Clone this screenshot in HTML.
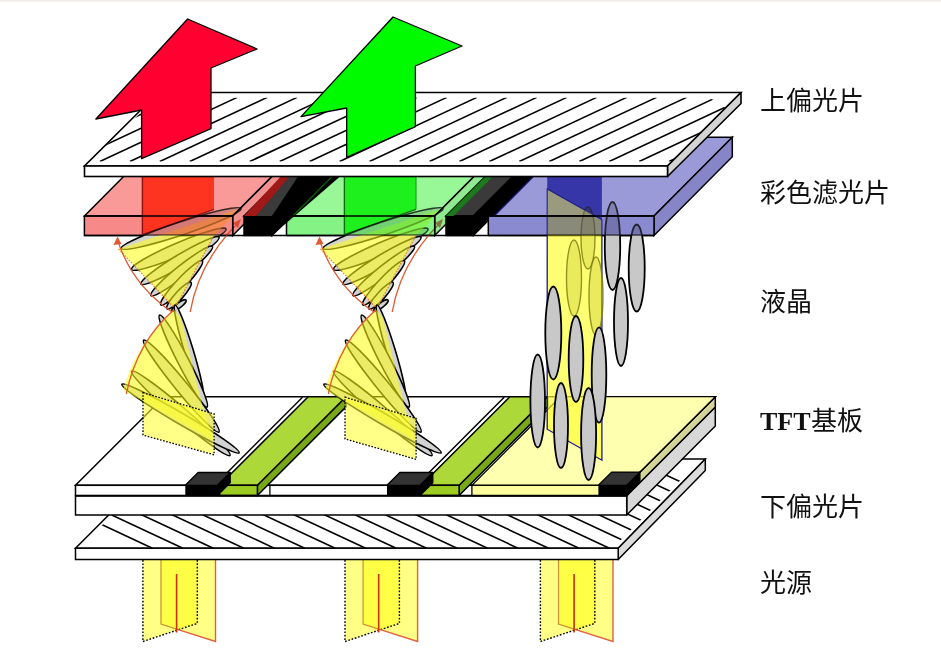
<!DOCTYPE html>
<html lang="zh-CN"><head><meta charset="utf-8">
<style>
html,body{margin:0;padding:0;background:#fff;width:941px;height:661px;overflow:hidden}
svg{display:block}
.lbl{font-family:"Liberation Sans",sans-serif;font-size:26px;fill:#111}
</style></head><body>
<svg width="941" height="661" viewBox="0 0 941 661">
<rect width="941" height="661" fill="#fff"/><rect width="941" height="1.6" fill="#efebe8"/>
<g>
  <polygon points="142.9,560.0 142.9,641.5 197.3,623.4 197.3,560.0" fill="#ffff00" fill-opacity="0.48"/>
  <polygon points="161.0,560.0 161.0,624.1 215.5,641.5 215.5,560.0" fill="#ffff00" fill-opacity="0.48"/>
  <polyline points="142.9,560.0 142.9,641.5 197.3,623.4 197.3,560.0" fill="none" stroke="#000" stroke-width="1.4" stroke-dasharray="1.7,1.7"/>
  <polyline points="161.0,560.0 161.0,624.1 176.6,629.1" fill="none" stroke="#c89030" stroke-width="1.2"/>
  <polyline points="176.6,629.1 215.5,641.5 215.5,560.0" fill="none" stroke="#e06040" stroke-width="1.4"/>
  <line x1="176.6" y1="574" x2="176.6" y2="632.5" stroke="#c83010" stroke-width="1.6"/>
</g>
<g>
  <polygon points="345.0,560.0 345.0,641.5 399.4,623.4 399.4,560.0" fill="#ffff00" fill-opacity="0.48"/>
  <polygon points="363.1,560.0 363.1,624.1 417.6,641.5 417.6,560.0" fill="#ffff00" fill-opacity="0.48"/>
  <polyline points="345.0,560.0 345.0,641.5 399.4,623.4 399.4,560.0" fill="none" stroke="#000" stroke-width="1.4" stroke-dasharray="1.7,1.7"/>
  <polyline points="363.1,560.0 363.1,624.1 378.7,629.1" fill="none" stroke="#c89030" stroke-width="1.2"/>
  <polyline points="378.7,629.1 417.6,641.5 417.6,560.0" fill="none" stroke="#e06040" stroke-width="1.4"/>
  <line x1="378.7" y1="574" x2="378.7" y2="632.5" stroke="#c83010" stroke-width="1.6"/>
</g>
<g>
  <polygon points="540.4,560.0 540.4,641.5 594.8,623.4 594.8,560.0" fill="#ffff00" fill-opacity="0.48"/>
  <polygon points="558.5,560.0 558.5,624.1 613.0,641.5 613.0,560.0" fill="#ffff00" fill-opacity="0.48"/>
  <polyline points="540.4,560.0 540.4,641.5 594.8,623.4 594.8,560.0" fill="none" stroke="#000" stroke-width="1.4" stroke-dasharray="1.7,1.7"/>
  <polyline points="558.5,560.0 558.5,624.1 574.1,629.1" fill="none" stroke="#c89030" stroke-width="1.2"/>
  <polyline points="574.1,629.1 613.0,641.5 613.0,560.0" fill="none" stroke="#e06040" stroke-width="1.4"/>
  <line x1="574.1" y1="574" x2="574.1" y2="632.5" stroke="#c83010" stroke-width="1.6"/>
</g>
<polygon points="75.5,548.2 618.2,548.2 705.3,459.1 164.6,459.1" fill="#fff" stroke="#000" stroke-width="1.5"/>
<clipPath id="lpclip"><polygon points="79,548.2 612.6,548.2 699.7,461 167,461"/></clipPath>
<g clip-path="url(#lpclip)" stroke="#000" stroke-width="1.6"><line x1="-38.8" y1="459" x2="152.4" y2="548.2"/><line x1="-8.3" y1="459" x2="182.9" y2="548.2"/><line x1="22.1" y1="459" x2="213.3" y2="548.2"/><line x1="52.6" y1="459" x2="243.8" y2="548.2"/><line x1="83.1" y1="459" x2="274.3" y2="548.2"/><line x1="113.5" y1="459" x2="304.8" y2="548.2"/><line x1="144.0" y1="459" x2="335.2" y2="548.2"/><line x1="174.5" y1="459" x2="365.7" y2="548.2"/><line x1="204.9" y1="459" x2="396.2" y2="548.2"/><line x1="235.4" y1="459" x2="426.6" y2="548.2"/><line x1="265.9" y1="459" x2="457.1" y2="548.2"/><line x1="296.4" y1="459" x2="487.6" y2="548.2"/><line x1="326.8" y1="459" x2="518.0" y2="548.2"/><line x1="357.3" y1="459" x2="548.5" y2="548.2"/><line x1="387.8" y1="459" x2="579.0" y2="548.2"/><line x1="418.2" y1="459" x2="609.4" y2="548.2"/><line x1="448.7" y1="459" x2="639.9" y2="548.2"/><line x1="479.2" y1="459" x2="670.4" y2="548.2"/><line x1="509.6" y1="459" x2="700.9" y2="548.2"/><line x1="540.1" y1="459" x2="731.3" y2="548.2"/><line x1="570.6" y1="459" x2="761.8" y2="548.2"/><line x1="601.1" y1="459" x2="792.3" y2="548.2"/><line x1="631.5" y1="459" x2="822.7" y2="548.2"/></g>
<polygon points="618.2,548.2 705.3,459.1 705.3,470.4 618.2,559.5" fill="#dcdcdc" stroke="#000" stroke-width="1.5" stroke-linejoin="round"/>
<rect x="75.5" y="548.2" width="542.7" height="11.3" fill="#fff" stroke="#000" stroke-width="1.5"/>
<polygon points="626.7,495.7 715.3,407.0 715.3,426.0 626.7,515.0" fill="#d8d8d8" stroke="#000" stroke-width="1.5" stroke-linejoin="round"/>
<rect x="75.5" y="495.7" width="551.2" height="19.3" fill="#fff" stroke="#000" stroke-width="1.5"/>
<polygon points="626.7,485.3 715.3,396.7 715.3,407.0 626.7,495.7" fill="#d4d496" stroke="#000" stroke-width="1.5" stroke-linejoin="round"/>
<polygon points="75.5,485.3 626.7,485.3 715.3,396.7 164.1,396.7" fill="#fff" stroke="#000" stroke-width="1.5"/>
<rect x="75.5" y="485.3" width="551.2" height="10.4" fill="#fff" stroke="#000" stroke-width="1.5"/>
<polygon points="471.9,485.3 626.7,485.3 715.3,396.7 560.5,396.7" fill="#ffffb0" stroke="#000" stroke-width="1.3"/>
<rect x="471.9" y="485.3" width="154.8" height="10.4" fill="#ffff9e" stroke="#000" stroke-width="1.3"/>
<line x1="226.6" y1="473.2" x2="302.5" y2="397.3" stroke="#000" stroke-width="1.5"/>
<polygon points="257.4,485.3 346.0,396.7 346.0,406.9 257.4,495.5" fill="#78a818" stroke="#000" stroke-width="1.5" stroke-linejoin="round"/>
<polygon points="219.6,485.3 257.4,485.3 346.0,396.7 308.2,396.7" fill="#acd83a" stroke="#000" stroke-width="1.5" stroke-linejoin="round"/>
<rect x="219.6" y="485.3" width="37.8" height="10.2" fill="#9ccc22" stroke="#000" stroke-width="1.5"/>
<line x1="428.3" y1="473.2" x2="504.2" y2="397.3" stroke="#000" stroke-width="1.5"/>
<polygon points="459.1,485.3 547.7,396.7 547.7,406.9 459.1,495.5" fill="#78a818" stroke="#000" stroke-width="1.5" stroke-linejoin="round"/>
<polygon points="421.3,485.3 459.1,485.3 547.7,396.7 509.9,396.7" fill="#acd83a" stroke="#000" stroke-width="1.5" stroke-linejoin="round"/>
<rect x="421.3" y="485.3" width="37.8" height="10.2" fill="#9ccc22" stroke="#000" stroke-width="1.5"/>
<line x1="269.9" y1="485.3" x2="269.9" y2="495.6" stroke="#000" stroke-width="1.3"/>
<polygon points="217.4,485.3 230.2,472.5 230.2,482.8 217.4,495.6" fill="#000" stroke="#000" stroke-width="1.3" stroke-linejoin="round"/>
<polygon points="185.3,485.3 217.4,485.3 230.2,472.5 198.1,472.5" fill="#333" stroke="#000" stroke-width="1.3" stroke-linejoin="round"/>
<rect x="185.3" y="485.3" width="32.1" height="10.3" fill="#000"/>
<polygon points="420.0,485.3 432.8,472.5 432.8,482.8 420.0,495.6" fill="#000" stroke="#000" stroke-width="1.3" stroke-linejoin="round"/>
<polygon points="387.0,485.3 420.0,485.3 432.8,472.5 399.8,472.5" fill="#333" stroke="#000" stroke-width="1.3" stroke-linejoin="round"/>
<rect x="387.0" y="485.3" width="33.0" height="10.3" fill="#000"/>
<polygon points="626.7,485.3 639.9,472.1 639.9,482.4 626.7,495.6" fill="#000" stroke="#000" stroke-width="1.3" stroke-linejoin="round"/>
<polygon points="598.4,485.3 626.7,485.3 639.9,472.1 611.6,472.1" fill="#333" stroke="#000" stroke-width="1.3" stroke-linejoin="round"/>
<rect x="598.4" y="485.3" width="28.3" height="10.3" fill="#000"/>
<line x1="75.5" y1="495.6" x2="626.7" y2="495.6" stroke="#000" stroke-width="1.6"/>
<polygon points="84.4,216.0 232.7,216.0 311.0,137.3 162.7,137.3" fill="#f99a98" stroke="#000" stroke-width="1.5"/>
<polygon points="232.7,216.0 311.0,137.3 311.0,156.8 232.7,235.5" fill="#f09290" stroke="#000" stroke-width="1.5"/>
<rect x="84.4" y="216.0" width="148.3" height="19.5" fill="#f78a88" stroke="#000" stroke-width="1.5"/>
<polygon points="244.0,216.0 272.0,216.0 350.3,137.3 322.3,137.3" fill="#3a3a3a" stroke="#000" stroke-width="1.5"/>
<polygon points="272.0,216.0 350.3,137.3 350.3,156.8 272.0,235.5" fill="#000" stroke="#000" stroke-width="1.5"/>
<rect x="244" y="216.0" width="28.0" height="19.5" fill="#000" stroke="#000" stroke-width="1.5"/>
<polygon points="286.5,216.0 434.7,216.0 513.0,137.3 364.8,137.3" fill="#98f898" stroke="#000" stroke-width="1.5"/>
<polygon points="434.7,216.0 513.0,137.3 513.0,156.8 434.7,235.5" fill="#90e890" stroke="#000" stroke-width="1.5"/>
<rect x="286.5" y="216.0" width="148.2" height="19.5" fill="#84f284" stroke="#000" stroke-width="1.5"/>
<polygon points="446.0,216.0 473.4,216.0 551.7,137.3 524.3,137.3" fill="#3a3a3a" stroke="#000" stroke-width="1.5"/>
<polygon points="473.4,216.0 551.7,137.3 551.7,156.8 473.4,235.5" fill="#000" stroke="#000" stroke-width="1.5"/>
<rect x="446" y="216.0" width="27.4" height="19.5" fill="#000" stroke="#000" stroke-width="1.5"/>
<polygon points="488.3,216.0 654.0,216.0 732.3,137.3 566.6,137.3" fill="#9a9ad8" stroke="#000" stroke-width="1.5"/>
<polygon points="654.0,216.0 732.3,137.3 732.3,156.8 654.0,235.5" fill="#8585c8" stroke="#000" stroke-width="1.5"/>
<rect x="488.3" y="216.0" width="165.7" height="19.5" fill="#8a8ad0" stroke="#000" stroke-width="1.5"/>
<polygon points="244,216 256.3,216 289.5,176.5 280.8,176.5" fill="#a01818"/>
<polygon points="256.3,216 272,216 298,176.5 289.5,176.5" fill="#3a3a3a"/>
<polygon points="272,216 298,176.5 340,176.5 272,235.5" fill="#000"/>
<polygon points="446.0,216.0 453.5,216.0 531.8,137.3 524.3,137.3" fill="#1c7a1c"/>
<polygon points="286.5,216.0 292.5,216.0 370.8,137.3 364.8,137.3" fill="#000"/>
<line x1="292.8" y1="216" x2="371.1" y2="137.3" stroke="#0a5a0a" stroke-width="1.4"/>
<polygon points="488.3,216.0 493.8,216.0 572.1,137.3 566.6,137.3" fill="#000"/>
<line x1="494" y1="216" x2="572.3" y2="137.3" stroke="#101060" stroke-width="1.4"/>
<polygon points="142.4,176.5 214,176.5 214,209.3 142.4,234.6" fill="#ff3420"/>
<polygon points="344.4,176.5 416,176.5 416,209.3 344.4,234.6" fill="#1ef01e"/>
<polygon points="547.2,176.5 601.9,176.5 601.9,219.8 547.2,189" fill="#3636a8"/>
<g stroke-width="1.4" fill="none"><line x1="142.4" y1="176.5" x2="142.4" y2="235.5" stroke="#901010"/><line x1="142.4" y1="234.6" x2="214" y2="209.3" stroke="#901010"/><line x1="344.4" y1="176.5" x2="344.4" y2="235.5" stroke="#107010"/><line x1="416" y1="176.5" x2="416" y2="209.3" stroke="#20a020" stroke-width="1.2"/><line x1="344.4" y1="234.6" x2="416" y2="209.3" stroke="#107010"/></g>
<g stroke="#000" stroke-width="1.5"><line x1="84.4" y1="216" x2="232.7" y2="216"/><line x1="286.5" y1="216" x2="434.7" y2="216"/><line x1="488.3" y1="216" x2="654" y2="216"/></g>
<line x1="84.4" y1="235.5" x2="654" y2="235.5" stroke="#000" stroke-width="1.6"/>
<defs><g id="helix"><ellipse cx="181.1" cy="228.5" rx="63.1" ry="6.5" transform="rotate(-18.4 181.1 228.5)" fill="#d2d2d2" stroke="#000" stroke-width="1.6" />
<ellipse cx="178.8" cy="249.2" rx="51.4" ry="6.5" transform="rotate(-23.2 178.8 249.2)" fill="#d2d2d2" stroke="#000" stroke-width="1.6" />
<ellipse cx="180.0" cy="260.6" rx="45.5" ry="6.0" transform="rotate(-31.0 180.0 260.6)" fill="#d2d2d2" stroke="#000" stroke-width="1.6" />
<ellipse cx="181.7" cy="271.0" rx="39.3" ry="5.5" transform="rotate(-38.6 181.7 271.0)" fill="#d2d2d2" stroke="#000" stroke-width="1.6" />
<ellipse cx="181.6" cy="282.9" rx="30.3" ry="5.0" transform="rotate(-46.7 181.6 282.9)" fill="#d2d2d2" stroke="#000" stroke-width="1.6" />
<ellipse cx="179.0" cy="295.7" rx="17.9" ry="4.0" transform="rotate(-47.9 179.0 295.7)" fill="#d2d2d2" stroke="#000" stroke-width="1.6" />
<ellipse cx="179.0" cy="305.5" rx="8.9" ry="2.5" transform="rotate(-38.2 179.0 305.5)" fill="#d2d2d2" stroke="#000" stroke-width="1.6" />
<polygon points="118.5,249 241,208 213,237 175,308.5" fill="#ffff10" fill-opacity="0.56"/>
<polyline points="118.5,249 175,308.5 213,237" fill="none" stroke="#e08020" stroke-width="1.2" stroke-dasharray="1.5,1.5"/>
<path d="M117.9,241.1 Q132.4,285.2 172,312" fill="none" stroke="#e05a30" stroke-width="1.3"/>
<polygon points="117.5,236.5 113.5,245 121.5,244" fill="#e05a30"/>
<path d="M238,223 Q199,262 190.2,312" fill="none" stroke="#e05a30" stroke-width="1.3"/>
<polygon points="241,219 233,223 238,228" fill="#e05a30"/>
<ellipse cx="189.0" cy="351.5" rx="48.6" ry="4.5" transform="rotate(73.2 189.0 351.5)" fill="#d2d2d2" stroke="#000" stroke-width="1.6" />
<ellipse cx="183.3" cy="361.1" rx="51.7" ry="5.5" transform="rotate(62.7 183.3 361.1)" fill="#d2d2d2" stroke="#000" stroke-width="1.6" />
<ellipse cx="181.3" cy="386.1" rx="59.4" ry="6.0" transform="rotate(50.7 181.3 386.1)" fill="#d2d2d2" stroke="#000" stroke-width="1.6" />
<ellipse cx="180.8" cy="413.3" rx="64.8" ry="6.0" transform="rotate(40.6 180.8 413.3)" fill="#d2d2d2" stroke="#000" stroke-width="1.6" />
<ellipse cx="180.5" cy="418.5" rx="67.9" ry="5.5" transform="rotate(30.3 180.5 418.5)" fill="#d2d2d2" stroke="#000" stroke-width="1.6" />
<path d="M174,309.8 Q137,342 123,390 L214,441 L203,408 L196,380 L181,318 Z" fill="#ffff10" fill-opacity="0.56"/>
<path d="M174,309.8 Q137,342 126.3,393.8" fill="none" stroke="#e05a30" stroke-width="1.3"/></g><clipPath id="belowF"><rect x="0" y="235.5" width="941" height="430"/></clipPath><clipPath id="inF"><rect x="0" y="150" width="941" height="85.5"/></clipPath></defs>
<use href="#helix" clip-path="url(#belowF)"/>
<use href="#helix" clip-path="url(#inF)" style="mix-blend-mode:multiply;opacity:0.75"/>
<g transform="translate(202,0)"><use href="#helix" clip-path="url(#belowF)"/></g>
<polygon points="143,392.7 214.1,413.9 214.1,454.8 143,435.1" fill="#ffff30" fill-opacity="0.58" stroke="#000" stroke-width="1.3" stroke-dasharray="1.6,1.6"/>
<polygon points="345,397.2 416.1,418.4 416.1,459.3 345,438.9" fill="#ffff30" fill-opacity="0.58" stroke="#000" stroke-width="1.3" stroke-dasharray="1.6,1.6"/>
<g transform="translate(202,0)"><use href="#helix" clip-path="url(#inF)" style="mix-blend-mode:multiply;opacity:0.75"/></g>
<defs><g id="rcol"><polygon points="547.2,189 601.9,219.8 601.9,460.2 547.2,429.2" fill="#ffff30" fill-opacity="0.68" stroke="#1a1a90" stroke-width="1.3"/>
<ellipse cx="588.0" cy="238.0" rx="31.0" ry="7.0" transform="rotate(90.0 588.0 238.0)" fill="#d0d040" stroke="#7a7a10" stroke-width="1.4" fill-opacity="0.45" stroke-opacity="0.8"/>
<ellipse cx="574.0" cy="278.0" rx="38.0" ry="7.5" transform="rotate(90.0 574.0 278.0)" fill="#d0d040" stroke="#7a7a10" stroke-width="1.4" fill-opacity="0.45" stroke-opacity="0.8"/>
<ellipse cx="596.0" cy="296.0" rx="39.0" ry="7.0" transform="rotate(90.0 596.0 296.0)" fill="#d0d040" stroke="#7a7a10" stroke-width="1.4" fill-opacity="0.45" stroke-opacity="0.8"/>
<ellipse cx="612.5" cy="246" rx="7.7" ry="44" fill="#c8c8c8" stroke="#000" stroke-width="1.8"/>
<ellipse cx="636.7" cy="268" rx="8" ry="43.5" fill="#c8c8c8" stroke="#000" stroke-width="1.8"/>
<ellipse cx="621" cy="322" rx="7" ry="44" fill="#c8c8c8" stroke="#000" stroke-width="1.8"/>
<ellipse cx="553.3" cy="333" rx="8" ry="46.5" fill="#c8c8c8" stroke="#000" stroke-width="1.8"/>
<ellipse cx="576" cy="359" rx="7.3" ry="43" fill="#c8c8c8" stroke="#000" stroke-width="1.8"/>
<ellipse cx="599" cy="375" rx="7.3" ry="47.6" fill="#c8c8c8" stroke="#000" stroke-width="1.8"/>
<ellipse cx="537.7" cy="401" rx="7.3" ry="46.5" fill="#c8c8c8" stroke="#000" stroke-width="1.8"/>
<ellipse cx="561" cy="425.5" rx="7" ry="42.5" fill="#c8c8c8" stroke="#000" stroke-width="1.8"/>
<ellipse cx="588.6" cy="434" rx="7.5" ry="46" fill="#c8c8c8" stroke="#000" stroke-width="1.8"/></g></defs>
<use href="#rcol" clip-path="url(#belowF)"/>
<use href="#rcol" clip-path="url(#inF)" style="mix-blend-mode:multiply;opacity:0.75"/>
<polygon points="84.5,166.0 667.5,166.0 741.0,92.5 158.5,92.5" fill="#fff" stroke="#000" stroke-width="1.6"/>
<clipPath id="tpclip"><polygon points="89.2,161.5 672,161.5 725.5,108 715,100.5 708,97.8 156.5,97.8"/></clipPath>
<g clip-path="url(#tpclip)" stroke="#000" stroke-width="1.6"><line x1="-79.9" y1="161.5" x2="57.4" y2="97.4"/><line x1="-49.9" y1="161.5" x2="87.4" y2="97.4"/><line x1="-19.9" y1="161.5" x2="117.4" y2="97.4"/><line x1="10.0" y1="161.5" x2="147.3" y2="97.4"/><line x1="40.0" y1="161.5" x2="177.3" y2="97.4"/><line x1="69.9" y1="161.5" x2="207.2" y2="97.4"/><line x1="99.9" y1="161.5" x2="237.2" y2="97.4"/><line x1="129.9" y1="161.5" x2="267.2" y2="97.4"/><line x1="159.8" y1="161.5" x2="297.1" y2="97.4"/><line x1="189.8" y1="161.5" x2="327.1" y2="97.4"/><line x1="219.7" y1="161.5" x2="357.0" y2="97.4"/><line x1="249.7" y1="161.5" x2="387.0" y2="97.4"/><line x1="279.7" y1="161.5" x2="417.0" y2="97.4"/><line x1="309.6" y1="161.5" x2="446.9" y2="97.4"/><line x1="339.6" y1="161.5" x2="476.9" y2="97.4"/><line x1="369.5" y1="161.5" x2="506.8" y2="97.4"/><line x1="399.5" y1="161.5" x2="536.8" y2="97.4"/><line x1="429.5" y1="161.5" x2="566.8" y2="97.4"/><line x1="459.4" y1="161.5" x2="596.7" y2="97.4"/><line x1="489.4" y1="161.5" x2="626.7" y2="97.4"/><line x1="519.3" y1="161.5" x2="656.6" y2="97.4"/><line x1="549.3" y1="161.5" x2="686.6" y2="97.4"/><line x1="579.3" y1="161.5" x2="716.6" y2="97.4"/><line x1="609.2" y1="161.5" x2="746.5" y2="97.4"/><line x1="639.2" y1="161.5" x2="776.5" y2="97.4"/><line x1="669.1" y1="161.5" x2="806.4" y2="97.4"/><line x1="699.1" y1="161.5" x2="836.4" y2="97.4"/><line x1="729.1" y1="161.5" x2="866.4" y2="97.4"/><line x1="759.0" y1="161.5" x2="896.3" y2="97.4"/><line x1="789.0" y1="161.5" x2="926.3" y2="97.4"/></g>
<polygon points="667.5,166.0 741.0,92.5 741.0,103.5 667.5,176.5" fill="#d4d4d4" stroke="#000" stroke-width="1.6" stroke-linejoin="round"/>
<rect x="84.5" y="166" width="583" height="10.5" fill="#fff" stroke="#000" stroke-width="1.6"/>
<polygon points="187.6,19 257,49 211,68 211,128.7 141.6,158.7 141.6,110 95.9,119" fill="#ff0030" stroke="#000" stroke-width="1.3" stroke-linejoin="round"/>
<polygon points="393,17 462,46 415.4,66 415.4,126.7 346.7,157.4 346.7,108 301,116.6" fill="#00fa00" stroke="#000" stroke-width="1.3" stroke-linejoin="round"/>
<text class="lbl" x="760" y="109.5">上偏光片</text>
<text class="lbl" x="760" y="201.8">彩色滤光片</text>
<text class="lbl" x="760" y="311">液晶</text>
<text class="lbl" x="760" y="430"><tspan font-family="Liberation Serif" font-weight="bold">TFT</tspan>基板</text>
<text class="lbl" x="760" y="516.3">下偏光片</text>
<text class="lbl" x="760" y="592">光源</text>
</svg>
</body></html>
